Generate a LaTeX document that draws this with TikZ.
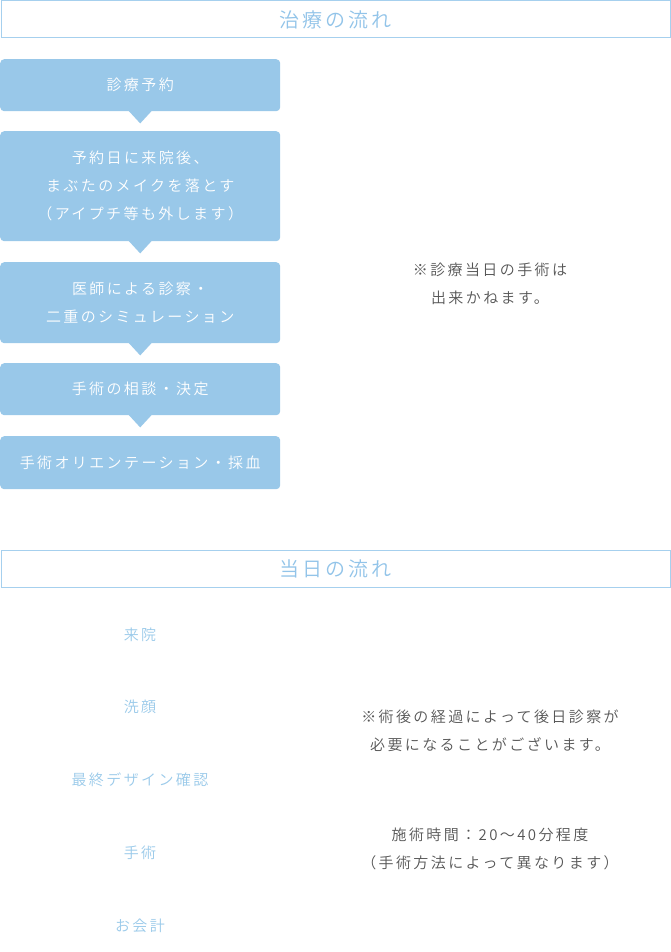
\documentclass[tikz,border=0pt]{standalone}
\usepackage{fontspec}
\setmainfont{Noto Sans CJK JP}[UprightFont=* DemiLight, LetterSpace=16]
\definecolor{boxblue}{HTML}{99C8E9}
\definecolor{linebl}{HTML}{A6D0EE}
\definecolor{headtxt}{HTML}{92C4E9}
\definecolor{itemtxt}{HTML}{9ACAEA}
\definecolor{note}{HTML}{555555}
\tikzset{
  stepbox/.style={fill=boxblue, rounded corners=4pt, minimum width=280pt, text=white,
     align=center, font=\fontsize{15}{28}\selectfont, inner sep=0pt, anchor=north west},
  headbox/.style={draw=linebl, line width=1pt, minimum width=669pt, minimum height=37pt,
     inner sep=0pt, text=headtxt, font=\fontsize{20}{24}\selectfont, anchor=north west},
  item/.style={text=itemtxt, font=\fontsize{15}{20}\selectfont, inner sep=0pt},
  notetxt/.style={text=note, align=center, font=\fontsize{15}{28}\selectfont, inner sep=0pt},
}
\newcommand{\pointer}[1]{\fill[boxblue] ([xshift=-12pt,yshift=1pt]#1.south) -- ([xshift=12pt,yshift=1pt]#1.south) -- ([yshift=-12pt]#1.south) -- cycle;}
\begin{document}
\begin{tikzpicture}[x=1pt,y=-1pt]
\useasboundingbox[fill=white] (0,0) rectangle (670,952);
% section 1
\node[headbox] (h1) at (0.5,0.5) {治療の流れ};
\node[stepbox, minimum height=52pt] (b1) at (0,59) {診療予約};
\node[stepbox, minimum height=110pt] (b2) at (0,131) {予約日に来院後、\\まぶたのメイクを落とす\\（アイプチ等も外します）};
\node[stepbox, minimum height=81pt] (b3) at (0,262) {医師による診察・\\二重のシミュレーション};
\node[stepbox, minimum height=52pt] (b4) at (0,363) {手術の相談・決定};
\node[stepbox, minimum height=53pt] (b5) at (0,436) {手術オリエンテーション・採血};
\pointer{b1}
\pointer{b2}
\pointer{b3}
\pointer{b4}
\node[notetxt] (n1) at (490,284) {※診療当日の手術は\\出来かねます。};
% section 2
\node[headbox] (h2) at (0.5,549.5) {当日の流れ};
\node[item] (i1) at (140,635) {来院};
\node[item] (i2) at (140,707) {洗顔};
\node[item] (i3) at (140,780) {最終デザイン確認};
\node[item] (i4) at (140,853) {手術};
\node[item] (i5) at (140,926) {お会計};
\node[notetxt] (n2) at (490,731) {※術後の経過によって後日診察が\\必要になることがございます。};
\node[notetxt] (n3) at (490,849) {施術時間：20〜40分程度\\（手術方法によって異なります）};
\end{tikzpicture}
\end{document}
